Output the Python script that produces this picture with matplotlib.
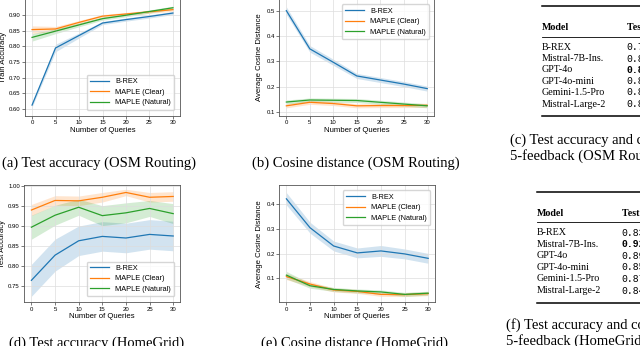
import matplotlib.pyplot as plt
import numpy as np

W, H = 640, 346

# OSM Routing (queries 0, 5, 10, 15, 20, 25, 30)
queries = [0, 5, 10, 15, 20, 25, 30]
osm_acc_brex = [0.612, 0.795, 0.835, 0.875, 0.886, 0.896, 0.907]
osm_acc_clear = [0.854, 0.856, 0.877, 0.897, 0.904, 0.911, 0.918]
osm_acc_natural = [0.829, 0.849, 0.869, 0.889, 0.900, 0.912, 0.924]
osm_acc_err = [[0.006, 0.012, 0.008, 0.005, 0.005, 0.005, 0.005],
               [0.012, 0.008, 0.006, 0.005, 0.005, 0.005, 0.005],
               [0.012, 0.008, 0.006, 0.005, 0.005, 0.005, 0.005]]

osm_cos_brex = [0.500, 0.349, 0.296, 0.242, 0.226, 0.210, 0.192]
osm_cos_clear = [0.124, 0.138, 0.133, 0.124, 0.125, 0.125, 0.126]
osm_cos_natural = [0.139, 0.147, 0.146, 0.145, 0.138, 0.131, 0.124]
osm_cos_err = [[0.015, 0.013, 0.012, 0.010, 0.010, 0.010, 0.010],
               [0.008, 0.008, 0.008, 0.008, 0.008, 0.008, 0.008],
               [0.008, 0.008, 0.008, 0.008, 0.008, 0.008, 0.008]]

# HomeGrid
hg_acc_brex = [0.763, 0.826, 0.862, 0.873, 0.869, 0.878, 0.874]
hg_acc_clear = [0.939, 0.963, 0.962, 0.971, 0.983, 0.971, 0.973]
hg_acc_natural = [0.896, 0.926, 0.946, 0.925, 0.932, 0.943, 0.930]
hg_acc_err = [[0.040, 0.040, 0.037, 0.037, 0.037, 0.037, 0.037],
              [0.014, 0.012, 0.012, 0.012, 0.008, 0.012, 0.012],
              [0.030, 0.025, 0.020, 0.025, 0.025, 0.020, 0.025]]

hg_cos_brex = [0.422, 0.305, 0.231, 0.203, 0.211, 0.199, 0.181]
hg_cos_clear = [0.107, 0.077, 0.053, 0.047, 0.035, 0.034, 0.038]
hg_cos_natural = [0.113, 0.070, 0.055, 0.049, 0.045, 0.035, 0.040]
hg_cos_err = [[0.025, 0.022, 0.020, 0.020, 0.022, 0.020, 0.020],
              [0.012, 0.010, 0.008, 0.008, 0.008, 0.008, 0.008],
              [0.015, 0.010, 0.008, 0.008, 0.008, 0.008, 0.008]]

labels = ["B-REX", "MAPLE (Clear)", "MAPLE (Natural)"]
colors = ["#1f77b4", "#ff7f0e", "#2ca02c"]

models = ["B-REX", "Mistral-7B-Ins.", "GPT-4o", "GPT-4o-mini",
          "Gemini-1.5-Pro", "Mistral-Large-2"]
osm_table_acc = ["0.75", "0.87", "0.89", "0.88", "0.86", "0.88"]
hg_table_acc = ["0.83", "0.92", "0.89", "0.85", "0.87", "0.84"]

plt.rcParams["font.family"] = ["Liberation Sans", "DejaVu Sans"]


def px_axes(fig, left, top, right, bottom):
    return fig.add_axes([left / W, 1 - bottom / H, (right - left) / W, (bottom - top) / H])


def draw_panel(ax, series, errs, ylabel, ylabel_x, ylim, yticks, yfmt, legend_loc, legend_anchor):
    for vals, err, lab, c in zip(series, errs, labels, colors):
        vals = np.array(vals)
        err = np.array(err)
        ax.plot(queries, vals, color=c, lw=0.9, label=lab)
        ax.fill_between(queries, vals - err, vals + err, color=c, alpha=0.2, lw=0)
    ax.set_xlim(-1.5, 31.5)
    ax.set_ylim(*ylim)
    ax.set_xticks([0, 5, 10, 15, 20, 25, 30])
    ax.set_yticks(yticks)
    ax.set_yticklabels([yfmt.format(t) for t in yticks])
    ax.tick_params(labelsize=4.3, length=2, width=0.5, pad=1.2, color="#444444")
    ax.grid(True, color="#dddddd", lw=0.5)
    for s in ax.spines.values():
        s.set_linewidth(0.6)
        s.set_color("#555555")
    ax.set_xlabel("Number of Queries", fontsize=5.6, labelpad=1)
    ax.set_ylabel(ylabel, fontsize=5.6)
    ax.yaxis.set_label_coords(ylabel_x, 0.5)
    ax.legend(fontsize=5.3, loc=legend_loc, bbox_to_anchor=legend_anchor,
              handlelength=2.6, borderpad=0.45, labelspacing=0.45, framealpha=0.8,
              edgecolor="#cccccc", fancybox=True)


def draw_table(fig, x0, y_top, y_head, y_rule, y_rows, y_bottom, x_num, values, bold_idx):
    serif = "Liberation Serif"
    for y, lw in [(y_top, 1.1), (y_rule, 0.6), (y_bottom, 1.1)]:
        fig.add_artist(plt.Line2D([x0 / W, 1.0], [1 - y / H, 1 - y / H], color="black", lw=lw))
    fig.text(x0 / W, 1 - y_head / H, "Model", family=serif, weight="bold",
             fontsize=7.2, va="center")
    fig.text(x_num / W, 1 - y_head / H, "Test accuracy", family=serif, weight="bold",
             fontsize=7.2, va="center")
    for i, (m, v, y) in enumerate(zip(models, values, y_rows)):
        fig.text(x0 / W, 1 - y / H, m, family=serif, fontsize=7.2, va="center")
        fig.text(x_num / W, 1 - y / H, v, family="Liberation Mono", fontsize=7,
                 va="center", weight="bold" if i == bold_idx else "normal")


fig = plt.figure(figsize=(6.4, 3.46), dpi=100)

ax_a = px_axes(fig, 25, -1, 180, 115.7)
draw_panel(ax_a, [osm_acc_brex, osm_acc_clear, osm_acc_natural], osm_acc_err,
           "Train Accuracy", -0.117, (0.578, 0.952), [0.60, 0.65, 0.70, 0.75, 0.80, 0.85, 0.90],
           "{:.2f}", "lower right", (0.985, 0.02))

ax_b = px_axes(fig, 279.3, -1, 434.3, 115.7)
draw_panel(ax_b, [osm_cos_brex, osm_cos_clear, osm_cos_natural], osm_cos_err,
           "Average Cosine Distance", -0.103, (0.085, 0.546), [0.1, 0.2, 0.3, 0.4, 0.5],
           "{:.1f}", "upper right", (0.99, 0.985))

ax_d = px_axes(fig, 24.3, 185, 180.3, 302.3)
draw_panel(ax_d, [hg_acc_brex, hg_acc_clear, hg_acc_natural], hg_acc_err,
           "Test Accuracy", -0.117, (0.708, 1.0017), [0.75, 0.80, 0.85, 0.90, 0.95, 1.00],
           "{:.2f}", "lower right", (0.985, 0.02))

ax_e = px_axes(fig, 279.3, 185, 435.3, 302.3)
draw_panel(ax_e, [hg_cos_brex, hg_cos_clear, hg_cos_natural], hg_cos_err,
           "Average Cosine Distance", -0.103, (0.003, 0.478), [0.1, 0.2, 0.3, 0.4],
           "{:.1f}", "upper right", (0.99, 0.985))

serif = "Liberation Serif"
cap = 10.5
fig.text(99 / W, 1 - 163 / H, "(a) Test accuracy (OSM Routing)", family=serif,
         fontsize=cap, ha="center", va="center")
fig.text(356 / W, 1 - 163 / H, "(b) Cosine distance (OSM Routing)", family=serif,
         fontsize=cap, ha="center", va="center")
fig.text(9 / W, 1 - 343 / H, "(d) Test accuracy (HomeGrid)", family=serif,
         fontsize=cap, ha="left", va="center")
fig.text(260.7 / W, 1 - 343 / H, "(e) Cosine distance (HomeGrid)", family=serif,
         fontsize=cap, ha="left", va="center")
fig.text(510 / W, 1 - 140 / H, "(c) Test accuracy and cosine distance with", family=serif,
         fontsize=cap, ha="left", va="center")
fig.text(510 / W, 1 - 156 / H, "5-feedback (OSM Routing)", family=serif,
         fontsize=cap, ha="left", va="center")
fig.text(506 / W, 1 - 325 / H, "(f) Test accuracy and cosine distance with", family=serif,
         fontsize=cap, ha="left", va="center")
fig.text(506 / W, 1 - 341 / H, "5-feedback (HomeGrid)", family=serif,
         fontsize=cap, ha="left", va="center")

draw_table(fig, 541.7, 6, 28, 37, [47.3, 58.5, 70, 81.3, 92.5, 104], 115.7, 626.7,
           osm_table_acc, 2)
draw_table(fig, 536.7, 191.7, 213.3, 222.3, [232.7, 244.3, 255.8, 267.3, 278.9, 290.5],
           302.7, 621.7, hg_table_acc, 1)

fig.savefig("out.png", dpi=100)
